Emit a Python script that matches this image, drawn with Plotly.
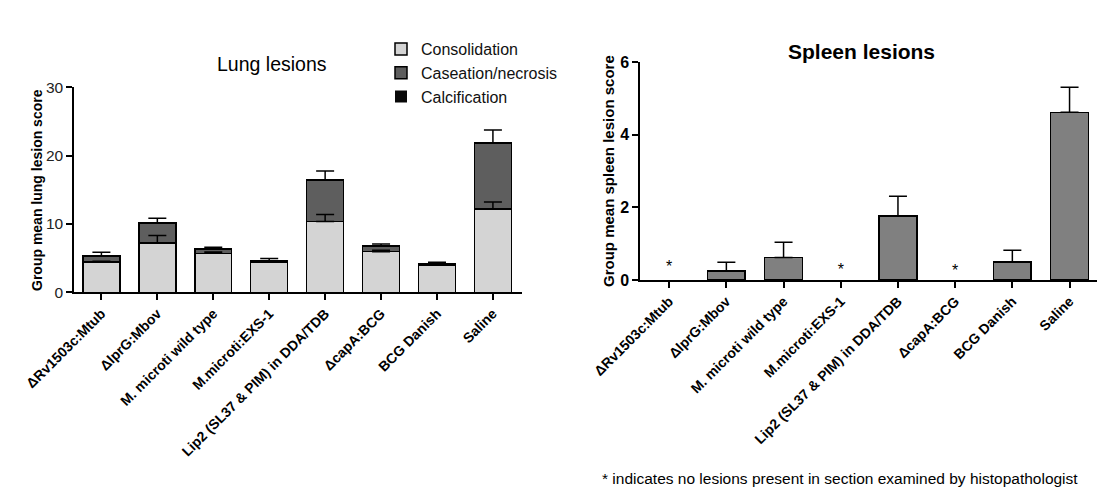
import plotly.graph_objects as go

W, H = 1097, 501

categories = ["ΔRv1503c:Mtub", "ΔlprG:Mbov", "M. microti wild type", "M.microti:EXS-1",
              "Lip2 (SL37 & PIM) in DDA/TDB", "ΔcapA:BCG", "BCG Danish", "Saline"]

# Lung lesion scores (stacked)
consolidation = [4.4, 7.2, 5.7, 4.4, 10.35, 5.95, 4.0, 12.2]
caseation = [0.9, 2.95, 0.65, 0.2, 6.1, 0.85, 0.15, 9.65]
calcification = [0, 0, 0, 0, 0, 0, 0, 0]
consolidation_sem = [0.15, 1.1, 0.2, 0.1, 1.05, 0.2, 0.1, 1.0]
total_sem = [0.55, 0.7, 0.25, 0.35, 1.3, 0.25, 0.25, 1.9]

# Spleen lesion scores
spleen = [0, 0.25, 0.62, 0, 1.76, 0, 0.49, 4.62]
spleen_sem = [0, 0.24, 0.42, 0, 0.55, 0, 0.33, 0.69]
asterisk_idx = [0, 3, 5]
asterisk_y = [0.33, 0.25, 0.21]

FONT = "Liberation Sans, Arial, sans-serif"
line = dict(color="black", width=1.5)

fig = go.Figure()

fig.add_trace(go.Bar(x=categories, y=calcification, name="Calcification",
                     marker=dict(color="#080808", line=dict(color="black", width=0)),
                     legendrank=3, xaxis="x", yaxis="y"))
fig.add_trace(go.Bar(x=categories, y=consolidation, name="Consolidation",
                     marker=dict(color="#d4d4d4", line=line),
                     legendrank=1, xaxis="x", yaxis="y"))
fig.add_trace(go.Bar(x=categories, y=caseation, name="Caseation/necrosis",
                     marker=dict(color="#5e5e5e", line=line),
                     legendrank=2, xaxis="x", yaxis="y"))

total = [a + b for a, b in zip(consolidation, caseation)]
err = dict(type="data", symmetric=False, color="black", thickness=1.5, width=9)
fig.add_trace(go.Scatter(x=categories, y=consolidation, mode="markers",
                         marker=dict(opacity=0, size=1), showlegend=False, hoverinfo="skip",
                         error_y=dict(err, array=consolidation_sem, arrayminus=[0] * 8),
                         xaxis="x", yaxis="y"))
fig.add_trace(go.Scatter(x=categories, y=total, mode="markers",
                         marker=dict(opacity=0, size=1), showlegend=False, hoverinfo="skip",
                         error_y=dict(err, array=total_sem, arrayminus=[0] * 8),
                         xaxis="x", yaxis="y"))

# bars with no lesions get no outline and no error bar
spleen_line_w = [1.5 if v > 0 else 0 for v in spleen]
spleen_err = [s if v > 0 else None for v, s in zip(spleen, spleen_sem)]
fig.add_trace(go.Bar(x=categories, y=spleen, showlegend=False,
                     marker=dict(color="#808080", line=dict(color="black", width=spleen_line_w)),
                     xaxis="x2", yaxis="y2"))
fig.add_trace(go.Scatter(x=categories, y=[v if v > 0 else None for v in spleen], mode="markers",
                         marker=dict(opacity=0, size=1), showlegend=False, hoverinfo="skip",
                         error_y=dict(err, array=spleen_err, arrayminus=[0] * 8),
                         xaxis="x2", yaxis="y2"))
fig.add_trace(go.Scatter(x=[categories[i] for i in asterisk_idx], y=asterisk_y, mode="text",
                         text=["*"] * len(asterisk_idx), textfont=dict(size=16, color="black", family=FONT),
                         showlegend=False, hoverinfo="skip", xaxis="x2", yaxis="y2"))

tickfont_x = dict(family=FONT, size=14, color="black", weight="bold")
common = dict(showline=True, linecolor="black", linewidth=1.5, ticks="outside", ticklen=6,
              tickcolor="black", tickwidth=1.5, showgrid=False, zeroline=False, automargin=False)


def ann(text, x, y, size, angle=0):
    return dict(text=text, x=x / W, y=1 - y / H, xref="paper", yref="paper",
                xanchor="center", yanchor="middle", showarrow=False, textangle=angle,
                font=dict(family=FONT, size=size, color="black"))


fig.update_layout(
    width=W, height=H,
    margin=dict(l=0, r=0, t=0, b=0, autoexpand=False),
    paper_bgcolor="white", plot_bgcolor="white",
    barmode="stack", bargap=0.34,
    font=dict(family=FONT, color="black"),
    legend=dict(x=381 / W, y=1 - 32 / H, xanchor="left", yanchor="top",
                font=dict(family=FONT, size=16, color="#111"), bgcolor="rgba(0,0,0,0)",
                traceorder="normal", itemwidth=30),
    xaxis=dict(common, domain=[74 / W, 522 / W], anchor="y", type="category",
               range=[-0.49, 7.52], tickangle=-45, tickfont=tickfont_x),
    yaxis=dict(common, domain=[1 - 292.3 / H, 1 - 87.3 / H], anchor="x", range=[0, 30],
               tickvals=[0, 10, 20, 30], tickfont=dict(family=FONT, size=15.5, color="#222")),
    xaxis2=dict(common, domain=[640 / W, 1], anchor="y2", type="category",
                range=[-0.51, 7.48], tickangle=-45, tickfont=tickfont_x),
    yaxis2=dict(common, domain=[1 - 280 / H, 1 - 62.3 / H], anchor="x2", range=[0, 6],
                tickvals=[0, 2, 4, 6],
                tickfont=dict(family=FONT, size=16, color="black", weight="bold")),
    annotations=[
        ann("Lung lesions", 272, 64, 19.5),
        ann("<b>Spleen lesions</b>", 861, 52, 21),
        ann("<b>Group mean lung lesion score</b>", 37, 190, 14, -90),
        ann("<b>Group mean spleen lesion score</b>", 608, 171, 15, -90),
        ann("* indicates no lesions present in section examined by histopathologist", 840, 478, 15.5),
    ],
)

fig.write_html("out.html", config={"displayModeBar": False},
               post_script="document.body.style.margin='0';document.body.style.padding='0';")
